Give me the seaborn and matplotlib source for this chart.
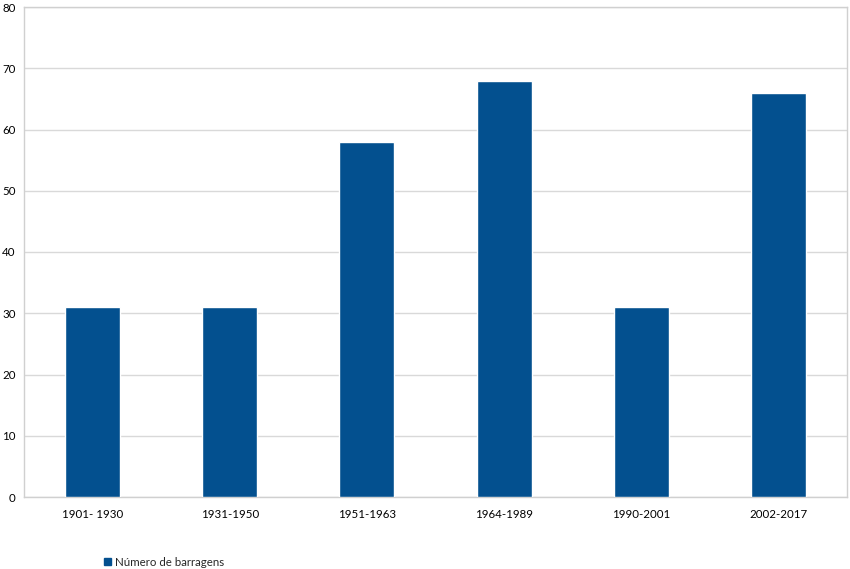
import pandas as pd
import seaborn as sns
import matplotlib.pyplot as plt
from matplotlib.patches import Patch

periodos = ['1901- 1930', '1931-1950', '1951-1963', '1964-1989', '1990-2001', '2002-2017']
barragens = [31, 31, 58, 68, 31, 66]

df = pd.DataFrame({'periodo': periodos, 'barragens': barragens})

sns.set_style('white')
plt.rcParams['font.family'] = ['Lato', 'DejaVu Sans']

fig = plt.figure(figsize=(8.5, 5.69), dpi=100)
ax = fig.add_axes([24/850, 1 - 497/569, 823/850, 490/569])

cor = '#03508F'
sns.barplot(data=df, x='periodo', y='barragens', color=cor, width=0.4,
            saturation=1, ax=ax, zorder=3)

ax.set_ylim(0, 80)
ax.set_yticks(range(0, 81, 10))
ax.yaxis.grid(True, color='#D9D9D9', linewidth=1)
ax.set_axisbelow(True)
ax.set_xlabel('')
ax.set_ylabel('')
ax.tick_params(axis='both', labelsize=8.3, length=0, colors='black')
ax.tick_params(axis='x', pad=9)
ax.tick_params(axis='y', pad=6)

for lado in ['left', 'bottom', 'top', 'right']:
    ax.spines[lado].set_color('#D0D0D0')
    ax.spines[lado].set_linewidth(1)
    ax.spines[lado].set_visible(True)

fig.legend(handles=[Patch(color=cor, label='Número de barragens')],
           loc='center left', bbox_to_anchor=(94/850, 1 - 562/569), frameon=False,
           fontsize=8.3, handlelength=0.6, handleheight=0.6, handletextpad=0.3)

fig.savefig('out.png', dpi=100)
